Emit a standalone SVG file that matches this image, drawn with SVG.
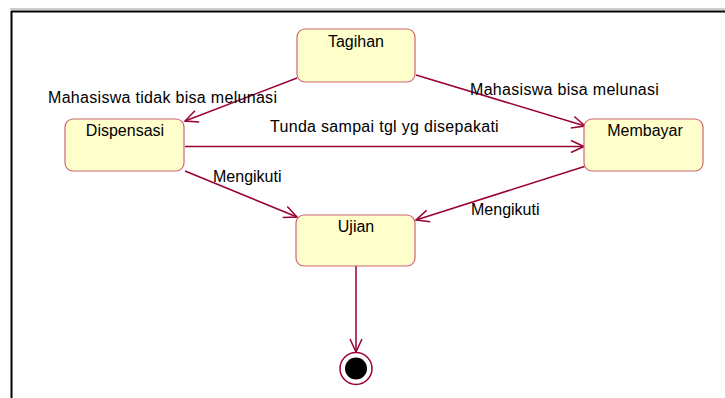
<svg xmlns="http://www.w3.org/2000/svg" width="725" height="398" viewBox="0 0 725 398">
<defs>
<marker id="arr" markerUnits="userSpaceOnUse" markerWidth="16" markerHeight="14" refX="13" refY="7" orient="auto" overflow="visible">
<path d="M0,1 L13,7 L0,13" fill="none" stroke="#990033" stroke-width="1.5"/>
</marker>
<style>
.st{fill:#ffffcc;stroke:#cc6677;stroke-width:1.2}
.t{font-family:"Liberation Sans",Arial,sans-serif;font-size:16px;fill:#000}
.l{letter-spacing:0.3px}
.c{text-anchor:middle}
.e{fill:none;stroke:#990033;stroke-width:1.5;marker-end:url(#arr)}
</style>
</defs>
<rect width="725" height="398" fill="#fff"/>
<g id="frame">
<line x1="10" y1="9" x2="725" y2="9" stroke="#999" stroke-width="1"/>
<line x1="11" y1="11.5" x2="725" y2="11.5" stroke="#000" stroke-width="2"/>
<line x1="11.5" y1="11" x2="11.5" y2="398" stroke="#000" stroke-width="2"/>
</g>
<g id="connectors">
<line class="e" x1="297" y1="78" x2="185" y2="121"/>
<line class="e" x1="416" y1="75" x2="585" y2="126"/>
<line class="e" x1="185" y1="146.5" x2="584" y2="146.5"/>
<line class="e" x1="185" y1="171" x2="297" y2="217"/>
<line class="e" x1="586" y1="166" x2="416" y2="220"/>
<line class="e" x1="356" y1="266" x2="356" y2="352"/>
</g>
<g id="labels">
<text class="t l" x="48" y="103">Mahasiswa tidak bisa melunasi</text>
<text class="t l" x="470" y="95">Mahasiswa bisa melunasi</text>
<text class="t l" x="270" y="132">Tunda sampai tgl yg disepakati</text>
<text class="t" x="213" y="182">Mengikuti</text>
<text class="t" x="471" y="215">Mengikuti</text>
</g>
<g id="tagihan">
<rect class="st" x="297" y="29" width="118" height="53" rx="8"/>
<text class="t c" x="356" y="47">Tagihan</text>
</g>
<g id="dispensasi">
<rect class="st" x="65" y="119" width="119" height="52" rx="8"/>
<text class="t c" x="125" y="136">Dispensasi</text>
</g>
<g id="membayar">
<rect class="st" x="584" y="119" width="119" height="52" rx="8"/>
<text class="t c" x="645" y="136">Membayar</text>
</g>
<g id="ujian">
<rect class="st" x="296" y="215" width="119" height="51" rx="8"/>
<text class="t c" x="356" y="232">Ujian</text>
</g>
<g id="final">
<circle cx="356" cy="368.5" r="16" fill="#fff" stroke="#990033" stroke-width="1.5"/>
<circle cx="356" cy="368.5" r="11" fill="#000"/>
</g>
</svg>
